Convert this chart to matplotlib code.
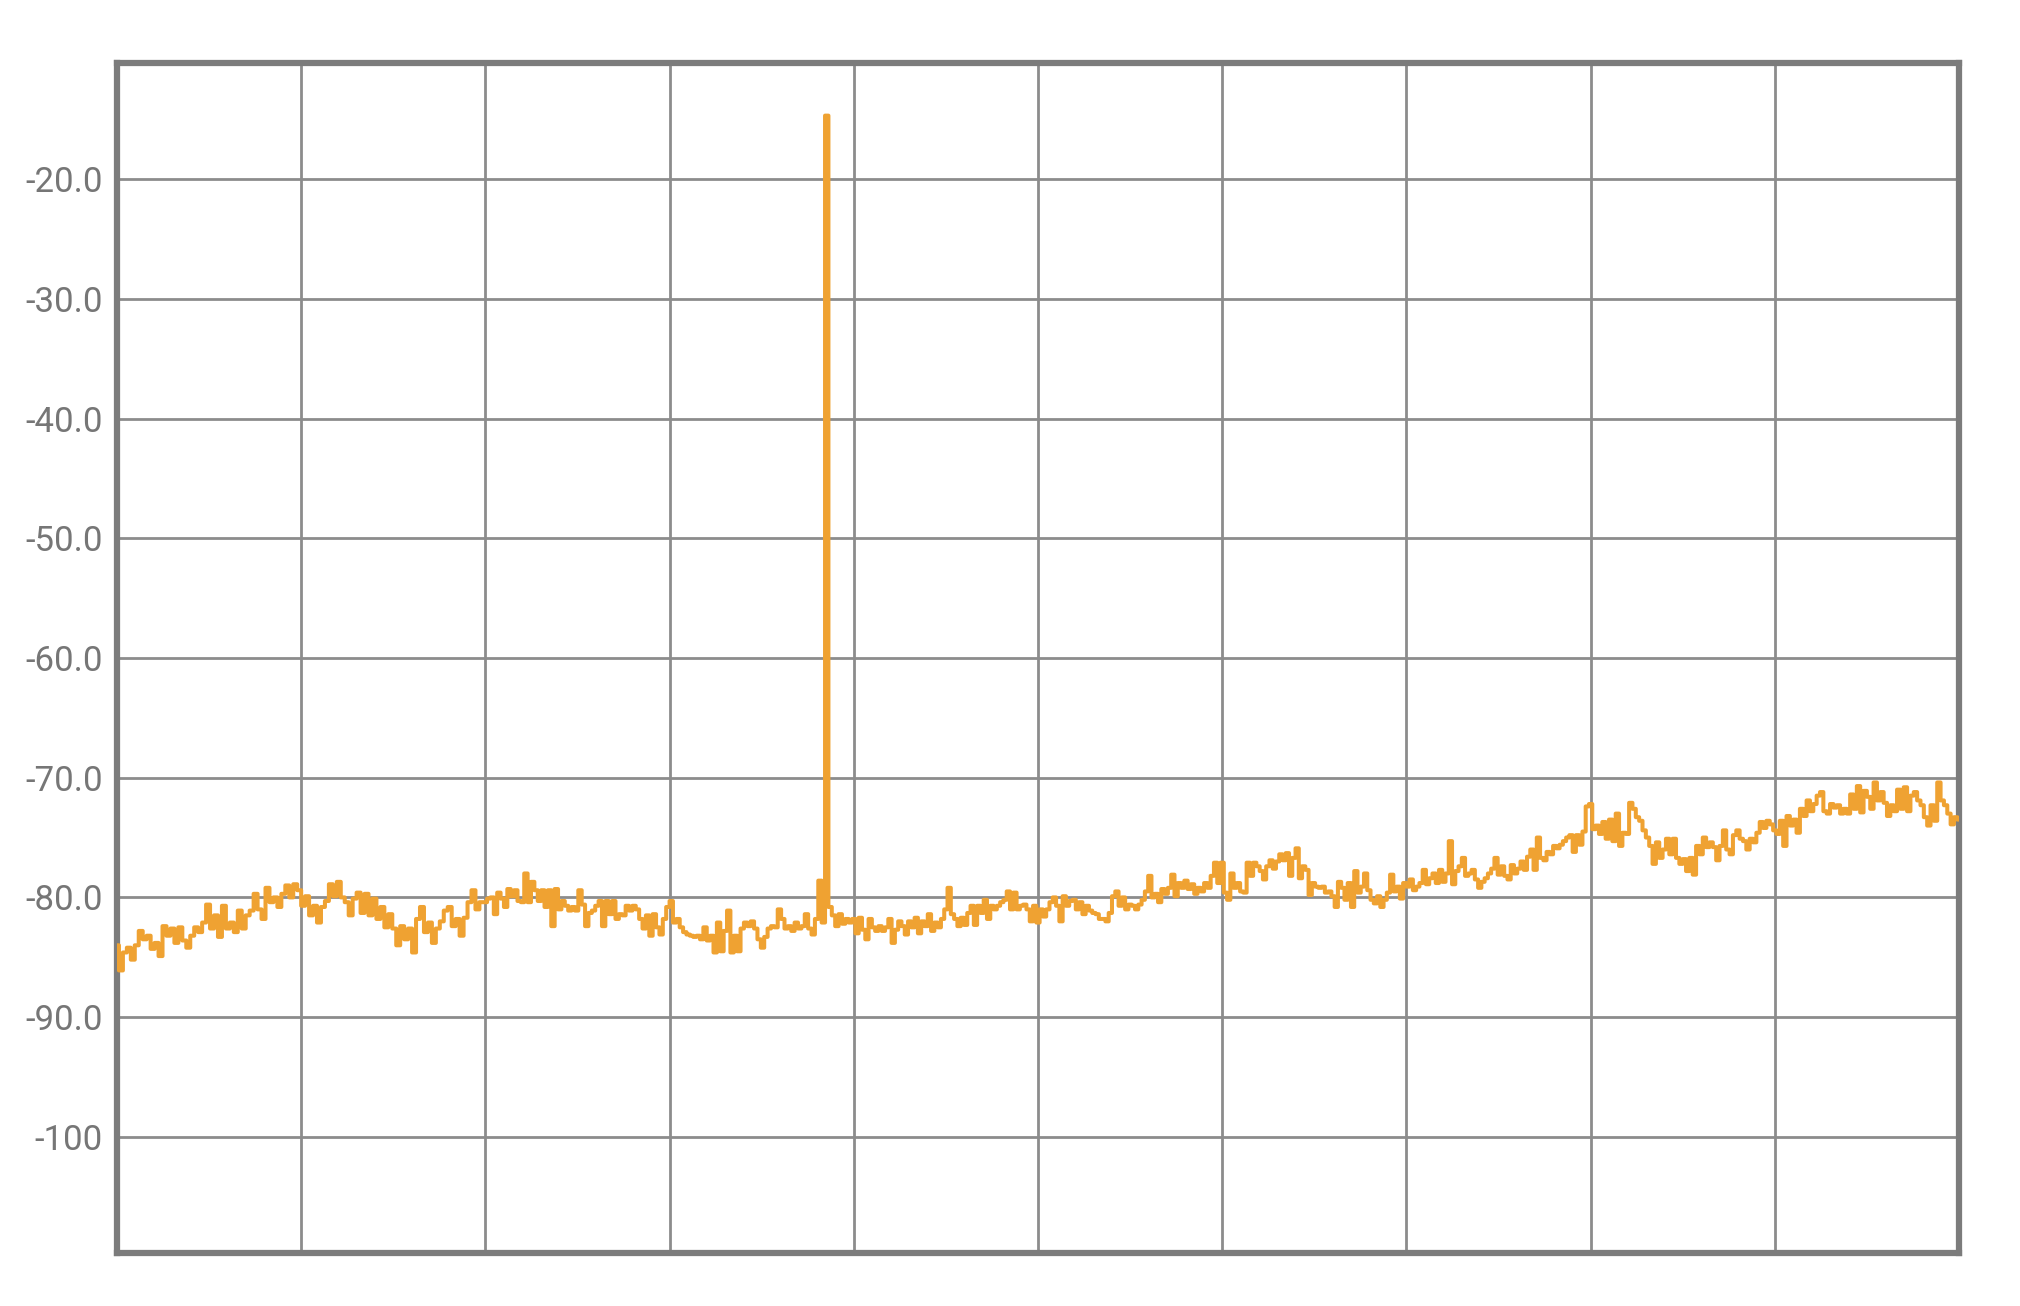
import numpy as np
import matplotlib
matplotlib.use("Agg")
import matplotlib.pyplot as plt

# spectrum trace, in dB, five equal-width segments
# (each segment covers 2 grid divisions, points evenly spaced inside it)
seg1_db = [-84.0, -86.1, -84.6, -84.2, -85.2, -84.0, -82.8, -83.5, -83.2, -84.3,
           -83.8, -84.9, -82.4, -83.2, -82.6, -83.8, -82.5, -83.6, -84.2, -83.2,
           -82.5, -82.9, -82.1, -80.6, -82.6, -81.5, -83.3, -80.7, -82.6, -82.1,
           -82.9, -81.1, -82.6, -81.5, -81.1, -79.7, -81.0, -81.8, -79.2, -80.4,
           -80.0, -80.8, -79.7, -79.0, -80.0, -78.9, -79.4, -80.7, -79.9, -81.5,
           -80.7, -82.1, -80.8, -80.3, -78.9, -79.9, -78.7, -80.0, -80.4, -81.5,
           -80.1, -79.6, -81.3, -79.7, -81.5, -80.1, -81.8, -80.8, -82.5, -81.4,
           -82.6, -84.0, -82.4, -83.5, -82.6, -84.6, -81.8, -80.8, -82.9, -82.1,
           -83.8, -82.6, -82.0, -81.1, -80.8, -82.4, -81.8, -83.2, -81.7, -80.4,
           -79.4, -81.0, -80.4]
seg2_db = [-80.4, -80.1, -80.0, -81.4, -79.6, -80.1, -80.8, -79.3, -79.9, -79.4,
           -80.3, -80.4, -78.0, -80.4, -78.7, -79.4, -80.3, -79.4, -80.8, -79.4,
           -82.4, -79.3, -81.0, -80.3, -80.7, -81.1, -80.8, -81.1, -79.4, -80.6,
           -82.4, -81.3, -81.1, -80.7, -80.3, -82.4, -80.3, -81.4, -80.3, -81.8,
           -81.4, -81.5, -80.7, -81.1, -80.7, -81.0, -81.8, -82.6, -81.5, -83.2,
           -81.4, -82.5, -83.1, -81.8, -80.8, -80.3, -82.1, -81.8, -82.5, -82.9,
           -83.1, -83.2, -83.3, -83.2, -83.5, -82.5, -83.6, -83.2, -84.6, -82.1,
           -84.5, -82.8, -81.1, -84.6, -83.2, -84.5, -82.6, -82.1, -82.4, -82.0,
           -82.6, -83.5, -84.2, -83.3, -82.6, -82.4, -82.5, -81.0, -81.8, -82.6,
           -82.4, -82.8, -82.1, -82.6, -82.4, -81.4, -82.6, -83.1, -81.8, -78.6,
           -82.1, -14.7, -80.8, -81.5, -82.4, -81.4, -82.2, -81.8, -82.1]
seg3_db = [-81.8, -83.0, -81.7, -82.7, -83.5, -81.8, -82.5, -82.8, -82.4, -82.8,
           -82.5, -81.8, -83.8, -82.7, -82.0, -82.4, -83.1, -82.0, -82.5, -81.7,
           -83.0, -82.0, -82.4, -81.4, -82.8, -82.1, -82.5, -81.8, -81.0, -79.2,
           -81.4, -81.8, -82.4, -81.7, -82.3, -81.3, -80.7, -82.3, -80.7, -81.3,
           -80.2, -81.8, -80.7, -81.0, -80.7, -80.4, -80.2, -79.5, -81.0, -79.6,
           -81.0, -80.7, -80.6, -81.0, -82.0, -80.7, -82.1, -81.0, -81.6, -81.0,
           -80.4, -80.0, -80.7, -82.0, -79.9, -80.7, -80.3, -80.2, -81.0, -80.4,
           -81.4, -80.7, -81.1, -81.3, -81.4, -81.8, -81.8, -82.0, -81.3, -79.9,
           -79.5, -80.7, -80.0, -81.0, -80.6, -80.7, -81.0, -80.6, -80.2, -79.5,
           -78.2, -80.0, -79.7, -80.4, -79.3, -79.7, -79.2, -78.1, -79.9, -78.8,
           -79.2, -78.6, -79.3, -78.9, -79.7, -79.2, -79.5, -78.8, -79.2, -78.2,
           -77.1, -78.8]
seg4_db = [-77.1, -79.6, -80.2, -78.0, -79.2, -78.8, -79.5, -79.6, -77.1, -78.2,
           -77.1, -77.4, -77.8, -78.5, -77.4, -76.9, -77.6, -77.0, -76.4, -76.9,
           -76.3, -78.2, -76.7, -75.9, -78.4, -77.4, -77.7, -79.8, -78.8, -79.1,
           -79.2, -79.1, -79.6, -79.5, -79.9, -80.8, -78.7, -79.2, -80.2, -78.8,
           -80.8, -77.8, -79.6, -79.1, -78.0, -79.4, -80.2, -80.5, -79.9, -80.8,
           -80.2, -79.6, -78.1, -79.5, -79.1, -80.1, -78.8, -79.1, -78.5, -79.4,
           -79.1, -78.8, -77.7, -78.9, -78.4, -78.0, -78.8, -77.7, -78.7, -78.0,
           -75.3, -78.9, -77.8, -77.4, -76.7, -78.2, -78.0, -77.7, -78.5, -79.2,
           -78.7, -78.4, -78.0, -77.6, -76.7, -78.1, -77.4, -78.2, -78.5, -77.3,
           -78.0, -77.6, -77.0, -77.7, -76.6, -76.0, -77.7, -75.0, -76.7, -76.9,
           -76.2, -76.4, -75.7, -75.9, -75.6, -75.3, -75.0, -74.8, -76.2, -74.8,
           -75.6, -74.5, -72.4]
seg5_db = [-72.2, -74.3, -74.0, -74.7, -73.7, -75.1, -73.5, -75.3, -73.0, -75.7,
           -74.6, -74.7, -72.1, -72.6, -73.3, -73.6, -74.4, -75.0, -75.7, -77.2,
           -75.4, -76.7, -76.0, -75.1, -76.4, -75.1, -76.7, -77.2, -76.8, -77.8,
           -76.7, -78.1, -75.7, -76.4, -75.0, -75.8, -75.4, -75.8, -76.9, -75.7,
           -74.4, -76.0, -76.4, -74.8, -74.4, -75.1, -75.3, -76.0, -75.1, -75.4,
           -74.6, -73.7, -74.2, -73.6, -73.9, -74.4, -74.7, -73.6, -75.7, -73.2,
           -74.0, -73.5, -74.6, -72.6, -73.2, -71.9, -72.8, -72.2, -71.5, -71.2,
           -72.8, -73.0, -72.2, -72.5, -72.3, -73.0, -72.6, -73.0, -71.4, -72.6,
           -70.7, -72.9, -71.1, -71.6, -72.6, -70.4, -71.9, -71.2, -72.1, -73.2,
           -72.3, -72.8, -71.0, -72.6, -70.8, -72.8, -71.5, -71.2, -71.9, -72.3,
           -73.3, -74.0, -72.3, -73.6, -70.4, -71.9, -72.3, -73.0, -73.9, -73.3,
           -73.5]

y_ticks = [-20, -30, -40, -50, -60, -70, -80, -90, -100]
y_labels = ["-20.0", "-30.0", "-40.0", "-50.0", "-60.0", "-70.0", "-80.0", "-90.0", "-100"]
n_div = 10

segments = [seg1_db, seg2_db, seg3_db, seg4_db, seg5_db]
seg_w = n_div / len(segments)
xs, ys = [], []
for i, seg in enumerate(segments):
    last = i == len(segments) - 1
    xs.append(np.linspace(i * seg_w, (i + 1) * seg_w, len(seg), endpoint=last))
    ys.append(np.array(seg))
x = np.concatenate(xs)
y = np.concatenate(ys)

plt.rcParams['font.family'] = ['Roboto', 'DejaVu Sans']

fig = plt.figure(figsize=(20.2, 13.06), dpi=100)
ax = fig.add_axes([0.0579, 0.0406, 0.9119, 0.9112])

ax.plot(x, y, color='#efa232', lw=2.9, drawstyle='steps-mid', zorder=3)

ax.set_xlim(0, n_div)
ax.set_ylim(-109.7, -10.3)
ax.set_xticks(np.arange(0, n_div + 1))
ax.set_yticks(y_ticks)
ax.set_yticklabels(y_labels)
ax.tick_params(axis='x', length=0, labelbottom=False)
ax.tick_params(axis='y', length=0, pad=10, labelsize=25, labelcolor='#767676')
ax.grid(True, color='#8c8c8c', lw=2.0, zorder=1)

for s in ax.spines.values():
    s.set_color('#7c7c7c')
    s.set_linewidth(4.5)

fig.savefig("out.png", dpi=100, facecolor='white')
